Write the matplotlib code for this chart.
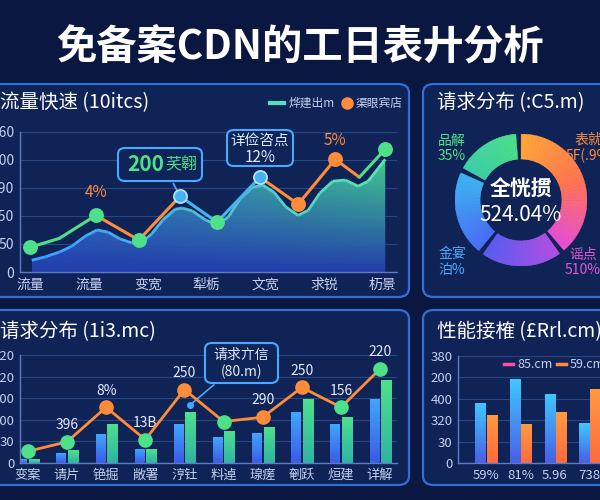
import numpy as np
import matplotlib
matplotlib.use("Agg")
import matplotlib.pyplot as plt
from matplotlib.patches import FancyBboxPatch, Wedge
from matplotlib.lines import Line2D
from matplotlib.collections import LineCollection
from matplotlib.colors import LinearSegmentedColormap, to_rgb

plt.rcParams['font.family'] = ['Noto Sans CJK SC', 'DejaVu Sans']

W, H = 600, 500
BG = '#0a1740'
PANEL = '#102356'
EDGE = '#2f6fd6'
TXT = '#c3d0ee'
GREEN = '#4fe08a'
ORANGE = '#ff8c3a'
BLUE = '#45b2f2'

# ---- data: 流量快速 (top left)
flow_cats = ['流量', '流量', '变宽', '犁栃', '文宽', '求锐', '杤景']
flow_ticks = ['0', '50', '150', '190', '300', '360']
flow_x = [0, 0.5, 1.12, 1.85, 2.55, 3.18, 3.91, 4.56, 5.19, 5.6, 6.04]
flow_y = [44, 60, 101, 57, 135, 89, 169, 121, 201, 169, 219]
flow_seg = ['g', 'g', 'o', 'o', 'b', 'b', 'o', 'o', 'o', 'g']
flow_marks = {0: 'g', 2: 'g', 3: 'g', 4: 'b', 5: 'g', 6: 'b', 7: 'o', 8: 'o', 10: 'g'}
area_x = [0.03, 0.26, 0.51, 0.71, 0.94, 1.14, 1.33, 1.53, 1.73, 1.90, 2.07, 2.26, 2.47, 2.59,
          2.76, 2.98, 3.18, 3.37, 3.57, 3.78, 3.96, 4.15, 4.35, 4.56, 4.73, 4.93, 5.15, 5.36,
          5.58, 5.75, 5.92, 6.04]
area_y = [21, 27, 36, 46, 64, 75, 71, 59, 52, 53, 68, 93, 112, 114, 109, 93, 84, 98, 130, 151,
          155, 142, 116, 101, 110, 141, 162, 164, 153, 162, 185, 201]

# ---- data: 请求分布 donut (top right)
req_shares = [40, 21, 22, 17]
req_labels = ['表就\n5F(.9%', '谣点\n510%', '金宴\n泊%', '品解\n35%']

# ---- data: 请求分布 bars (bottom left)
dist_cats = ['变案', '请片', '铯掘', '敞署', '涥钍', '料逴', '瑔瘥', '剦跃', '烜建', '详解']
dist_ticks = ['0', '30', '100', '200', '120', '220']
dist_blue = [7, 21, 67, 32, 88, 58, 69, 118, 88, 146]
dist_green = [9, 28, 90, 32, 118, 74, 83, 148, 106, 192]
dist_line = [27, 49, 129, 54, 170, 96, 106, 175, 129, 218]
dist_notes = ['', '396', '8%', '13B', '250', '', '290', '250', '156', '220']
dist_mark = ['g', 'g', 'o', 'g', 'o', 'g', 'o', 'o', 'g', 'g']

# ---- data: 性能接榷 (bottom right)
perf_cats = ['59%', '81%', '5.96', '738']
perf_ticks = ['0', '30', '320', '400', '200', '380']
perf_blue = [140, 194, 159, 93]
perf_orange = [110, 89, 117, 171]

COL = {'g': GREEN, 'o': ORANGE, 'b': BLUE}


def fx(x):
    return x / W


def fy(y):
    return 1 - y / H


def box(x0, y0, x1, y1):
    return [x0 / W, 1 - y1 / H, (x1 - x0) / W, (y1 - y0) / H]


def panel(x0, y0, x1, y1):
    p = FancyBboxPatch((fx(x0), fy(y1)), fx(x1 - x0), (y1 - y0) / H,
                       boxstyle="round,pad=0,rounding_size=0.018", transform=fig.transFigure,
                       facecolor=PANEL, edgecolor=EDGE, lw=1.6, zorder=-1)
    fig.add_artist(p)


def callout(x0, y0, x1, y1):
    p = FancyBboxPatch((fx(x0), fy(y1)), fx(x1 - x0), (y1 - y0) / H,
                       boxstyle="round,pad=0,rounding_size=0.012", transform=fig.transFigure,
                       facecolor='#0f2458', edgecolor='#4aa8ff', lw=1.5, zorder=20)
    fig.add_artist(p)


def ctext(x, y, s, **kw):
    fig.text(fx(x), fy(y), s, zorder=21, **kw)


def style(ax, ticks, cats, fs=10):
    ax.set_facecolor('none')
    for s in ['top', 'right']:
        ax.spines[s].set_visible(False)
    for s in ['left', 'bottom']:
        ax.spines[s].set_color('#5b7cc4')
        ax.spines[s].set_linewidth(1)
    ax.set_yticks(np.arange(len(ticks)) * 50)
    ax.set_yticklabels(ticks)
    ax.set_ylim(0, 250)
    ax.set_xticks(range(len(cats)))
    ax.set_xticklabels(cats)
    ax.tick_params(colors=TXT, labelsize=fs, length=0, pad=4)
    ax.grid(axis='y', color='#284785', lw=0.8)
    ax.set_axisbelow(True)


def grad_bars(ax, bars, top, bottom):
    cmap = LinearSegmentedColormap.from_list('b', [bottom, top])
    g = np.linspace(0, 1, 64).reshape(-1, 1)
    for b in bars:
        x, w, h = b.get_x(), b.get_width(), b.get_height()
        ax.imshow(g, extent=[x, x + w, 0, h], origin='lower', cmap=cmap,
                  aspect='auto', zorder=2)
        b.set_facecolor('none')


fig = plt.figure(figsize=(6, 5), dpi=100, facecolor=BG)

fig.text(0.5, fy(47), '免备案CDN的工日表廾分析', color='white', fontsize=29,
         fontweight='bold', ha='center', va='center')

panel(-20, 84, 409, 297)
panel(423, 84, 620, 297)
panel(-20, 310, 409, 485)
panel(423, 310, 620, 485)

# ---------- top left: line + area
ax1 = fig.add_axes(box(20, 131.8, 397, 272))
style(ax1, flow_ticks, flow_cats)

poly = ax1.fill_between(area_x, area_y, 0, color='none', lw=0)
ny, nx = 100, 200
vv = np.linspace(0, 1, ny)[:, None, None]
hh = np.linspace(0, 1, nx)[None, :, None]
bot = np.array(to_rgb('#2440b0'))
top_l = np.array(to_rgb('#3a86dc'))
top_r = np.array(to_rgb('#44d48e'))
topc = top_l * (1 - hh) + top_r * hh
img = bot * (1 - vv) + topc * vv
im = ax1.imshow(img, extent=[area_x[0], area_x[-1], 0, max(area_y)], origin='lower',
                aspect='auto', alpha=0.95, zorder=1)
im.set_clip_path(poly.get_paths()[0], transform=ax1.transData)
pts = np.column_stack([area_x, area_y])
segs = np.stack([pts[:-1], pts[1:]], axis=1)
lc_cmap = LinearSegmentedColormap.from_list('l', ['#3aa0ff', '#5ee3b0'])
lc = LineCollection(segs, colors=lc_cmap(np.linspace(0, 1, len(segs))), lw=2, zorder=3)
ax1.add_collection(lc)

for i, c in enumerate(flow_seg):
    ax1.plot(flow_x[i:i + 2], flow_y[i:i + 2], color=COL[c], lw=2.2, zorder=4,
             solid_capstyle='round')
for i, c in flow_marks.items():
    ax1.plot(flow_x[i], flow_y[i], 'o', ms=9.5, color=COL[c],
             mec='#b8e6ff' if c == 'b' else COL[c], mew=1.2, zorder=5)
ax1.set_ylim(0, 250)
ax1.set_xlim(-0.17, 6.24)
ax1.text(flow_x[2], flow_y[2] + 26, '4%', color=ORANGE, fontsize=11, ha='center', va='bottom')
ax1.text(flow_x[8], flow_y[8] + 18, '5%', color=ORANGE, fontsize=11, ha='center', va='bottom')

fig.text(fx(0), fy(103), '流量快速 (10itcs)', color='white', fontsize=14, ha='left', va='center')
fig.add_artist(Line2D([fx(270), fx(284)], [fy(103), fy(103)], color='#4fe0c0', lw=3,
                      transform=fig.transFigure))
fig.text(fx(289), fy(103), '烨建出m', color=TXT, fontsize=8.5, va='center')
fig.add_artist(Line2D([fx(347)], [fy(103)], marker='o', ms=8, color=ORANGE,
                      transform=fig.transFigure))
fig.text(fx(356), fy(103), '渠眼宾店', color=TXT, fontsize=8.5, va='center')

callout(118, 148, 202, 181)
ctext(127, 164, '200', color=GREEN, fontsize=15, fontweight='bold', va='center')
ctext(165, 165, '芺翱', color=GREEN, fontsize=11.5, va='center')
ax1.annotate('', xy=(flow_x[4], flow_y[4]), xytext=(fx(172), fy(181)),
             textcoords='figure fraction', arrowprops=dict(arrowstyle='-', color='#4aa8ff', lw=1.3))
callout(227, 130, 293, 166)
ctext(260, 141, '详俭咨点', color='#dfe8ff', fontsize=10.5, ha='center', va='center')
ctext(260, 157, '12%', color='#dfe8ff', fontsize=11, ha='center', va='center')

# ---------- top right: donut
fig.text(fx(437), fy(103), '请求分布 (:C5.m)', color='white', fontsize=14, va='center')
ax2 = fig.add_axes(box(455, 134, 587, 266))
ax2.set_xlim(-1, 1)
ax2.set_ylim(-1, 1)
ax2.set_aspect('equal')
ax2.axis('off')
ring_cmaps = [['#ffa53a', '#ff7650', '#e64fd2'], ['#b24fe4', '#5a5df2'],
              ['#4a6ef6', '#3fb2f2'], ['#3fcfa8', '#4be08a']]
start = 92.0
gap = 5.0
for share, cols in zip(req_shares, ring_cmaps):
    span = share / sum(req_shares) * 360
    cm = LinearSegmentedColormap.from_list('r', cols)
    edges = np.linspace(start - gap / 2, start - span + gap / 2, 41)
    for k in range(40):
        col = cm(k / 39)
        ax2.add_patch(Wedge((0, 0), 1, edges[k + 1], edges[k] + 0.4, width=0.38,
                            facecolor=col, edgecolor=col, lw=0.3))
    start -= span
fig.text(fx(521), fy(189), '全恍掼', color='white', fontsize=15, fontweight='bold',
         ha='center', va='center')
fig.text(fx(521), fy(215), '524.04%', color='white', fontsize=15, ha='center', va='center')
lab_pos = [(588, 148, ORANGE), (583, 262, '#e057d6'), (452, 262, '#4ea8ff'), (452, 148, GREEN)]
for txt, (x, y, c) in zip(req_labels, lab_pos):
    fig.text(fx(x), fy(y), txt, color=c, fontsize=10, ha='center', va='center', linespacing=1.1)

# ---------- bottom left: bars + line
fig.text(fx(0), fy(332), '请求分布 (1i3.mc)', color='white', fontsize=14, va='center')
ax3 = fig.add_axes(box(20, 355, 397, 463))
style(ax3, dist_ticks, dist_cats, fs=9.5)
xs = np.arange(len(dist_cats))
b1 = ax3.bar(xs - 0.15, dist_blue, width=0.24, zorder=2)
b2 = ax3.bar(xs + 0.15, dist_green, width=0.26, zorder=2)
grad_bars(ax3, b1, '#40a6ff', '#3a5be6')
grad_bars(ax3, b2, '#4ee08c', '#2fb3a4')
ax3.plot(xs, dist_line, color=ORANGE, lw=2, zorder=4)
for i, c in enumerate(dist_mark):
    ax3.plot(xs[i], dist_line[i], 'o', ms=9.5, color=COL[c], zorder=5)
    if dist_notes[i]:
        ax3.annotate(dist_notes[i], (xs[i], dist_line[i]), xytext=(0, 7), textcoords='offset points',
                     ha='center', va='bottom', color='#e3eaff', fontsize=10)
ax3.set_xlim(-0.2, 9.43)
ax3.set_ylim(0, 250)
callout(205, 343, 278, 383)
ctext(241, 355, '请求亣信', color='#dfe8ff', fontsize=10, ha='center', va='center')
ctext(241, 372, '(80.m)', color='#dfe8ff', fontsize=10, ha='center', va='center')
ax3.annotate('', xy=(4.14, 134), xytext=(fx(216), fy(383)), textcoords='figure fraction',
             arrowprops=dict(arrowstyle='-', color='#4aa8ff', lw=1.2))
ax3.plot(4.14, 134, 'o', ms=4, color='#3fa8ff', zorder=6)

# ---------- bottom right: grouped bars
fig.text(fx(437), fy(332), '性能接榷 (£Rrl.cm)', color='white', fontsize=14, va='center')
ax4 = fig.add_axes(box(458, 356, 620, 463))
style(ax4, perf_ticks, perf_cats, fs=9.5)
gx = np.arange(len(perf_cats))
c1 = ax4.bar(gx - 0.16, perf_blue, width=0.29, zorder=2)
c2 = ax4.bar(gx + 0.17, perf_orange, width=0.29, zorder=2)
grad_bars(ax4, c1, '#3fc6ff', '#4a5fe6')
grad_bars(ax4, c2, '#ff9a40', '#ff6a3e')
ax4.set_xlim(-0.81, 3.88)
ax4.set_ylim(0, 250)
fig.add_artist(Line2D([fx(504), fx(513)], [fy(364), fy(364)], color='#ff4f9a', lw=2.5,
                      transform=fig.transFigure))
fig.text(fx(517), fy(364), '85.cm', color=TXT, fontsize=9, va='center')
fig.add_artist(Line2D([fx(557), fx(566)], [fy(364), fy(364)], color=ORANGE, lw=2.5,
                      transform=fig.transFigure))
fig.text(fx(570), fy(364), '59.cm', color=TXT, fontsize=9, va='center')

fig.savefig('out.png', dpi=100, facecolor=BG)
